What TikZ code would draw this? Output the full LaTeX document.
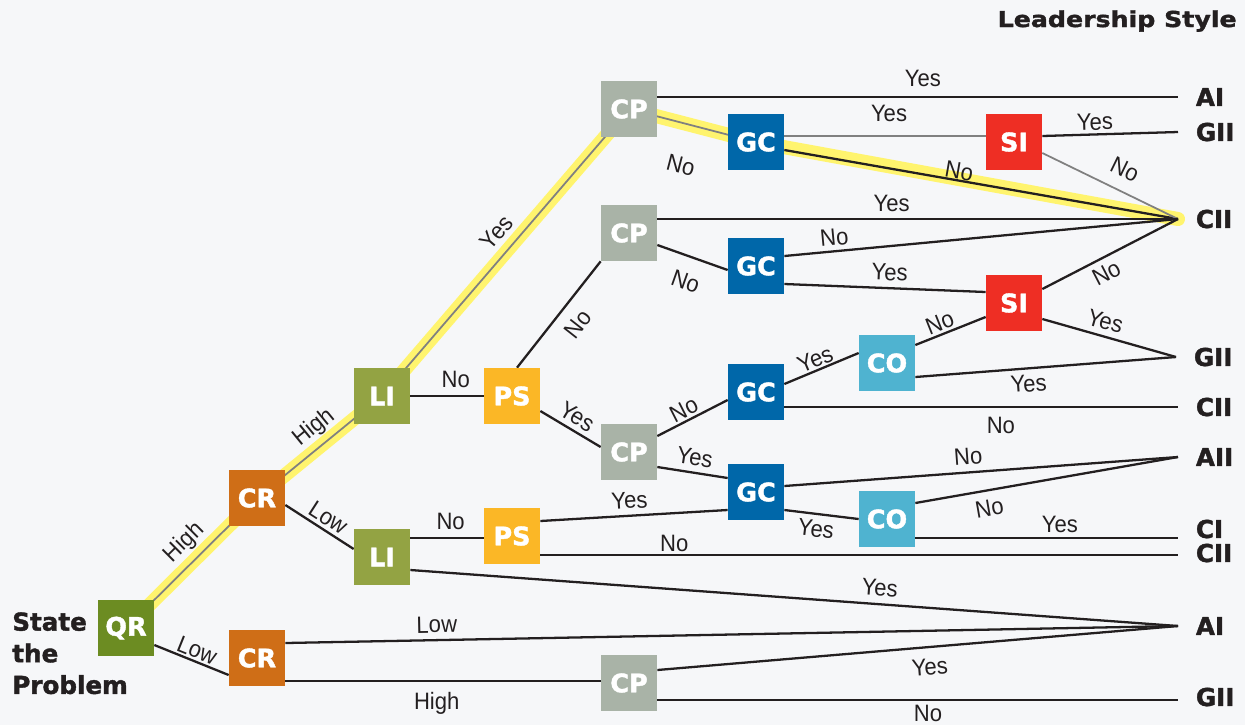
\documentclass[tikz,border=0pt]{standalone}
\usepackage{fontspec}
\setmainfont{Liberation Sans}[FakeStretch=0.93]
\newfontfamily\heavy{DejaVu Sans}[BoldFeatures={FakeBold=1.6}]
\newfontfamily\heavywide{DejaVu Sans}[BoldFeatures={FakeBold=1.6, FakeStretch=1.15}]
\usetikzlibrary{calc}
\definecolor{paperBg}{RGB}{246,247,249}
\definecolor{lineBlack}{RGB}{35,31,32}
\definecolor{lineGray}{RGB}{128,128,128}
\definecolor{glowYellow}{RGB}{255,244,110}
\definecolor{qrGreen}{RGB}{108,140,34}
\definecolor{crOrange}{RGB}{207,110,23}
\definecolor{liOlive}{RGB}{147,163,67}
\definecolor{psAmber}{RGB}{251,183,38}
\definecolor{cpSage}{RGB}{169,179,167}
\definecolor{gcBlue}{RGB}{0,103,169}
\definecolor{siRed}{RGB}{238,46,36}
\definecolor{coCyan}{RGB}{79,179,208}
\pgfdeclarelayer{back}
\pgfsetlayers{back,main}

\begin{document}
\begin{tikzpicture}[x=0.02cm, y=-0.02cm,
    box/.style={minimum size=1.12cm, inner sep=0pt, text=white, font=\heavy\bfseries\fontsize{14.5}{16}\selectfont},
    outcome/.style={anchor=west, inner ysep=0pt, inner xsep=10pt, text=lineBlack, font=\heavy\bfseries\fontsize{14}{16}\selectfont},
    link/.style={draw=lineBlack, line width=1.3pt},
    dim/.style={draw=lineGray, line width=1pt},
    glow/.style={draw=glowYellow, line width=8pt, line cap=round, line join=round},
    lab/.style={text=lineBlack, inner sep=1pt, text height=9.8pt, text depth=0pt, sloped, font=\fontsize{13.5}{15}\selectfont}]
\useasboundingbox (0,0) rectangle (1245,725);

% headings
\node[anchor=base east, inner sep=0pt, text=lineBlack, font=\heavywide\bfseries\fontsize{12.5}{14}\selectfont] (title) at (1237,27) {Leadership Style};
\node[anchor=north west, align=left, inner sep=0pt, text=lineBlack, font=\heavy\bfseries\fontsize{14}{18}\selectfont] (start) at (12,612) {State\\the\\Problem};

% decision boxes
\node[box, fill=qrGreen] (qr) at (126,628) {QR};
\node[box, fill=crOrange] (crA) at (257,498) {CR};
\node[box, fill=crOrange] (crB) at (257,658) {CR};
\node[box, fill=liOlive] (liA) at (382,396) {LI};
\node[box, fill=liOlive] (liB) at (382,557) {LI};
\node[box, fill=psAmber] (psA) at (512,396) {PS};
\node[box, fill=psAmber] (psB) at (512,536) {PS};
\node[box, fill=cpSage] (cpA) at (629,109) {CP};
\node[box, fill=cpSage] (cpB) at (629,233) {CP};
\node[box, fill=cpSage] (cpC) at (629,452) {CP};
\node[box, fill=cpSage] (cpD) at (629,683) {CP};
\node[box, fill=gcBlue] (gcA) at (756,142) {GC};
\node[box, fill=gcBlue] (gcB) at (756,266) {GC};
\node[box, fill=gcBlue] (gcC) at (756,392) {GC};
\node[box, fill=gcBlue] (gcD) at (756,492) {GC};
\node[box, fill=siRed] (siA) at (1014,142) {SI};
\node[box, fill=siRed] (siB) at (1014,303) {SI};
\node[box, fill=coCyan] (coA) at (887,363) {CO};
\node[box, fill=coCyan] (coB) at (887,519) {CO};

% leadership styles
\node[outcome] (oAI1) at (1178,97) {AI};
\node[outcome] (oGII1) at (1178,132) {GII};
\node[outcome] (oCII1) at (1178,219) {CII};
\node[outcome] (oGII2) at (1176,357) {GII};
\node[outcome] (oCII2) at (1178,407) {CII};
\node[outcome] (oAII) at (1178,457) {AII};
\node[outcome] (oCI) at (1178,529) {CI};
\node[outcome] (oCII3) at (1178,553) {CII};
\node[outcome] (oAI2) at (1178,626) {AI};
\node[outcome] (oGII3) at (1178,697) {GII};

\begin{pgfonlayer}{back}
\fill[paperBg] (0,0) rectangle (1245,725);

% highlighted route
\draw[glow] (qr.center) -- (crA.center) -- (liA.center) -- (cpA.center) -- (gcA.center) -- (oCII1.west);
\draw[dim] (qr.center) -- node[lab, above=6pt, pos=.55] {High} (crA.center)
    -- node[lab, above=5.3pt, pos=.55] {High} (liA.center)
    -- node[lab, above=5.4pt, pos=.525] {Yes} (cpA.center)
    -- node[lab, below=16.8pt, pos=.49] {No} (gcA.center);

% upper branch
\draw[link] ($(cpA.east)+(0,-12)$) -- node[lab, above=4.6pt, pos=.51] {Yes} (oAI1.west);
\draw[dim] ($(gcA.east)+(0,-6)$) -- node[lab, above=7pt, pos=.52] {Yes} ($(siA.west)+(0,-6)$);
\draw[link] ($(gcA.east)+(0,8)$) -- node[lab, above=-0.9pt, pos=.44] {No} (oCII1.west);
\draw[link] ($(siA.east)+(0,-6)$) -- node[lab, above=0.9pt, pos=.39] {Yes} (oGII1.west);
\draw[dim] ($(siA.east)+(0,11)$) -- node[lab, above=6pt, pos=.54] {No} (oCII1.west);

\draw[link] ($(liA.east)$) -- node[lab, above=3pt, pos=.62] {No} (psA.west);
\draw[link] ($(psA.north)+(5,0)$) -- node[lab, below=5.1pt, pos=.53] {No} (cpB.south west);
\draw[link] ($(psA.east)+(0,15)$) -- node[lab, above=1.8pt, pos=.49] {Yes} ($(cpC.west)+(0,-5)$);

\draw[link] ($(cpB.east)+(0,-14)$) -- node[lab, above=2.5pt, pos=.45] {Yes} (oCII1.west);
\draw[link] ($(cpB.east)+(0,12)$) -- node[lab, below=7.4pt, pos=.52] {No} ($(gcB.west)+(0,4)$);
\draw[link] ($(gcB.east)+(0,-10)$) -- node[lab, above=1.6pt, pos=.13] {No} (oCII1.west);
\draw[link] ($(gcB.east)+(0,18)$) -- node[lab, above=2.6pt, pos=.52] {Yes} ($(siB.west)+(0,-11)$);
\draw[link] ($(siB.east)+(0,-14)$) -- node[lab, below=1.9pt, pos=.42] {No} (oCII1.west);
\draw[link] ($(siB.east)+(0,16)$) -- node[lab, above=2.3pt, pos=.44] {Yes} (oGII2.west);

% middle branch
\draw[link] ($(cpC.east)+(0,-16)$) -- node[lab, above=0.3pt, pos=.45] {No} ($(gcC.west)+(0,8)$);
\draw[link] ($(gcC.east)+(0,-8)$) -- node[lab, above=0pt, pos=.47] {Yes} ($(coA.west)+(0,-10)$);
\draw[link] ($(coA.east)+(0,-18)$) -- node[lab, above=0.5pt, pos=.41] {No} ($(siB.west)+(0,14)$);
\draw[link] ($(coA.east)+(0,14)$) -- node[lab, below=1.8pt, pos=.43] {Yes} (oGII2.west);
\draw[link] ($(gcC.east)+(0,15)$) -- node[lab, below=3.7pt, pos=.55] {No} (oCII2.west);
\draw[link] ($(cpC.east)+(0,15)$) -- node[lab, above=2.4pt, pos=.5] {Yes} ($(gcD.west)+(0,-14)$);
\draw[link] ($(psB.east)+(0,-15)$) -- node[lab, above=2.4pt, pos=.48] {Yes} ($(gcD.west)+(0,18)$);
\draw[link] ($(gcD.east)+(0,-6)$) -- node[lab, above=2.9pt, pos=.47] {No} (oAII.west);
\draw[link] ($(gcD.east)+(0,18)$) -- node[lab, below=1.5pt, pos=.45] {Yes} (coB.west);
\draw[link] ($(coB.east)+(0,-16)$) -- node[lab, below=3.2pt, pos=.27] {No} (oAII.west);
\draw[link] ($(coB.east)+(0,19)$) -- node[lab, above=1.5pt, pos=.55] {Yes} ($(oCI.west)+(0,9)$);
\draw[link] ($(psB.east)+(0,19)$) -- node[lab, above=0.3pt, pos=.21] {No} ($(oCII3.west)+(0,2)$);

% lower branch
\draw[link] ($(qr.east)+(0,17)$) -- node[lab, above=0.2pt, pos=.52] {Low} ($(crB.west)+(0,17)$);
\draw[link] ($(crA.east)+(0,7)$) -- node[lab, above=0.9pt, pos=.53] {Low} ($(liB.west)+(0,-8)$);
\draw[link] ($(liB.east)+(0,-19)$) -- node[lab, above=3.2pt, pos=.55] {No} ($(psB.west)+(0,2)$);
\draw[link] ($(liB.east)+(0,13)$) -- node[lab, above=3.3pt, pos=.61] {Yes} (oAI2.west);
\draw[link] ($(crB.east)+(0,-15)$) -- node[lab, above=2.6pt, pos=.17] {Low} (oAI2.west);
\draw[link] ($(crB.east)+(0,23)$) -- node[lab, below=4.9pt, pos=.48] {High} ($(cpD.west)+(0,-2)$);
\draw[link] ($(cpD.east)+(0,-13)$) -- node[lab, below=4.7pt, pos=.52] {Yes} (oAI2.west);
\draw[link] ($(cpD.east)+(0,17)$) -- node[lab, below=0.6pt, pos=.52] {No} ($(oGII3.west)+(0,3)$);
\end{pgfonlayer}
\end{tikzpicture}
\end{document}
